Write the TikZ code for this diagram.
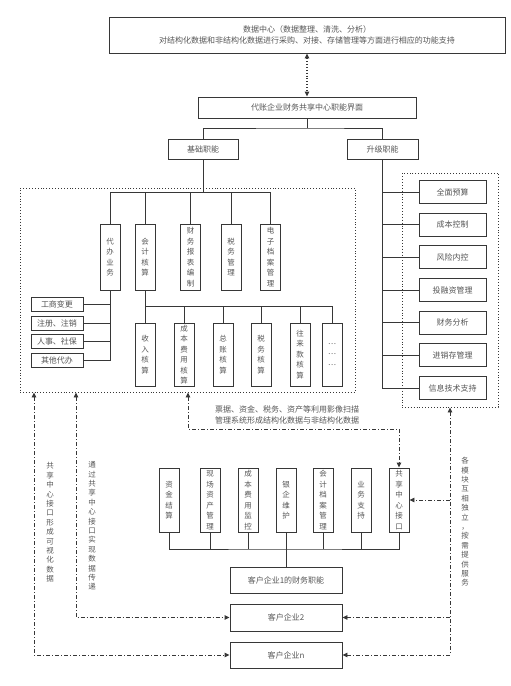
\documentclass[tikz,border=0pt]{standalone}
\usepackage{fontspec}
\setmainfont{Noto Sans CJK SC}
\usetikzlibrary{arrows.meta}
\definecolor{linegray}{RGB}{55,55,55}
\definecolor{txtgray}{RGB}{85,85,85}

\begin{document}
\begin{tikzpicture}[x=1pt,y=-1pt,
    every node/.style={text=txtgray,font=\fontsize{8}{11}\selectfont,inner sep=0pt,align=center},
    conn/.style={draw=linegray,line width=0.9pt},
    hbox/.style={draw=linegray,line width=0.9pt},
    vbox/.style={draw=linegray,line width=0.9pt,minimum width=20,font=\fontsize{7.5}{10.5}\selectfont},
    area/.style={draw=linegray,line width=0.9pt,dotted},
    dd/.style={draw=linegray,line width=0.9pt,dash pattern=on 4pt off 2pt on 1pt off 2pt},
    tip/.tip={Triangle[length=5pt,width=4.5pt]},
    vlabel/.style={font=\fontsize{7.5}{9.4}\selectfont}]
  \useasboundingbox (0,0) rectangle (511,686);

  % top part
  \node[hbox,minimum width=396,minimum height=36] (datacenter) at (307,35)
    {数据中心（数据整理、清洗、分析）\\对结构化数据和非结构化数据进行采购、对接、存储管理等方面进行相应的功能支持};
  \node[hbox,minimum width=218,minimum height=21] (ui) at (307,107.5) {代账企业财务共享中心职能界面};
  \draw[conn,dotted,line width=1.2pt,tip-tip] (datacenter.south) -- (ui.north);
  \node[hbox,minimum width=70,minimum height=20] (jichu) at (203,149) {基础职能};
  \node[hbox,minimum width=71,minimum height=20] (shengji) at (382.5,149) {升级职能};
  \coordinate (busA) at (307,128);
  \draw[conn] (ui.south) -- (busA);
  \draw[conn] (jichu.north) |- (busA) -| (shengji.north);

  % basic functions
  \node[area,minimum width=335,minimum height=204] (basearea) at (187.5,290) {};
  \coordinate (busB) at (203,192);
  \draw[conn] (jichu.south) -- (busB);
  \node[vbox,minimum height=66] (dbyw) at (110,257) {代\\办\\业\\务};
  \node[vbox,minimum height=66] (kjhs) at (145,257) {会\\计\\核\\算};
  \node[vbox,minimum height=66] (cwbb) at (190.5,257) {财\\务\\报\\表\\编\\制};
  \node[vbox,minimum height=66] (swgl) at (231,257) {税\\务\\管\\理};
  \node[vbox,minimum height=66] (dzda) at (270.5,257) {电\\子\\档\\案\\管\\理};
  \draw[conn] (busB) -| (dbyw.north);
  \draw[conn] (busB) -| (kjhs.north);
  \draw[conn] (busB) -| (cwbb.north);
  \draw[conn] (busB) -| (swgl.north);
  \draw[conn] (busB) -| (dzda.north);

  \node[hbox,minimum width=52,minimum height=14] (gsbg) at (57,304) {工商变更};
  \node[hbox,minimum width=52,minimum height=14] (zczx) at (57,323) {注册、注销};
  \node[hbox,minimum width=52,minimum height=14] (rssb) at (57,341) {人事、社保};
  \node[hbox,minimum width=52,minimum height=14] (qtdb) at (57,360) {其他代办};
  \draw[conn] (dbyw.south) |- (qtdb.east);
  \draw[conn] (gsbg.east) -- (gsbg.east -| dbyw.south);
  \draw[conn] (zczx.east) -- (zczx.east -| dbyw.south);
  \draw[conn] (rssb.east) -- (rssb.east -| dbyw.south);

  \coordinate (busC) at (145,306);
  \draw[conn] (kjhs.south) -- (busC);
  \node[vbox,minimum height=63] (srhs) at (145,354.5) {收\\入\\核\\算};
  \node[vbox,minimum height=63] (cbhs) at (184,354.5) {成\\本\\费\\用\\核\\算};
  \node[vbox,minimum height=63] (zzhs) at (223,354.5) {总\\账\\核\\算};
  \node[vbox,minimum height=63] (swhs) at (261,354.5) {税\\务\\核\\算};
  \node[vbox,minimum height=63] (wlhs) at (300,354.5) {往\\来\\款\\核\\算};
  \node[vbox,minimum height=63] (more) at (332,354.5) {…\\…\\…};
  \draw[conn] (busC) -| (srhs.north);
  \draw[conn] (busC) -| (cbhs.north);
  \draw[conn] (busC) -| (zzhs.north);
  \draw[conn] (busC) -| (swhs.north);
  \draw[conn] (busC) -| (wlhs.north);
  \draw[conn] (busC) -| (more.north);

  % upgraded functions
  \node[area,minimum width=96,minimum height=234] (upgarea) at (450,290) {};
  \node[hbox,minimum width=67,minimum height=23] (qmys) at (452.5,192) {全面预算};
  \node[hbox,minimum width=67,minimum height=23] (cbkz) at (452.5,224.7) {成本控制};
  \node[hbox,minimum width=67,minimum height=23] (fxnk) at (452.5,257.3) {风险内控};
  \node[hbox,minimum width=67,minimum height=23] (trz) at (452.5,290) {投融资管理};
  \node[hbox,minimum width=67,minimum height=23] (cwfx) at (452.5,322.7) {财务分析};
  \node[hbox,minimum width=67,minimum height=23] (jxc) at (452.5,355.3) {进销存管理};
  \node[hbox,minimum width=67,minimum height=23] (xxjs) at (452.5,388) {信息技术支持};
  \draw[conn] (shengji.south) |- (xxjs.west);
  \draw[conn] (qmys.west) -- (qmys.west -| shengji.south);
  \draw[conn] (cbkz.west) -- (cbkz.west -| shengji.south);
  \draw[conn] (fxnk.west) -- (fxnk.west -| shengji.south);
  \draw[conn] (trz.west) -- (trz.west -| shengji.south);
  \draw[conn] (cwfx.west) -- (cwfx.west -| shengji.south);
  \draw[conn] (jxc.west) -- (jxc.west -| shengji.south);

  % client enterprises
  \node[vbox,minimum height=64] (zjjs) at (169,500) {资\\金\\结\\算};
  \node[vbox,minimum height=64] (xczc) at (210,500) {现\\场\\资\\产\\管\\理};
  \node[vbox,minimum height=64] (cbjk) at (248,500) {成\\本\\费\\用\\监\\控};
  \node[vbox,minimum height=64] (yqwh) at (286,500) {银\\企\\维\\护};
  \node[vbox,minimum height=64] (kjda) at (323,500) {会\\计\\档\\案\\管\\理};
  \node[vbox,minimum height=64] (ywzc) at (361,500) {业\\务\\支\\持};
  \node[vbox,minimum height=64] (gxjk) at (399,500) {共\\享\\中\\心\\接\\口};
  \node[hbox,minimum width=112,minimum height=26] (kh1) at (286,580) {客户企业1的财务职能};
  \node[hbox,minimum width=112,minimum height=27] (kh2) at (286,617.5) {客户企业2};
  \node[hbox,minimum width=112,minimum height=26] (khn) at (286,655) {客户企业n};
  \coordinate (busD) at (286,549);
  \draw[conn] (zjjs.south) |- (busD) -| (gxjk.south);
  \draw[conn] (xczc.south) -- (xczc.south |- busD);
  \draw[conn] (cbjk.south) -- (cbjk.south |- busD);
  \draw[conn] (yqwh.south) -- (kh1.north);
  \draw[conn] (kjda.south) -- (kjda.south |- busD);
  \draw[conn] (ywzc.south) -- (ywzc.south |- busD);

  % data flows
  \coordinate (lineA) at (34,0);
  \coordinate (lineB) at (76,0);
  \coordinate (lineC) at (188,429);
  \draw[dd,tip-tip] (basearea.south -| lineA) |- (khn.west);
  \draw[dd,tip-tip] (basearea.south -| lineB) |- (kh2.west);
  \draw[dd,tip-tip] (basearea.south -| lineC) -- (lineC) -| (gxjk.north);
  \draw[dd,tip-tip] (upgarea.south) |- (khn.east);
  \draw[dd,-tip] (upgarea.south |- kh2.east) -- (kh2.east);
  \draw[dd,-tip] (upgarea.south |- gxjk.east) -- (gxjk.east);

  \node[vlabel] (lblA) at (50,522.5) {共\\享\\中\\心\\接\\口\\形\\成\\可\\视\\化\\数\\据};
  \node[vlabel] (lblB) at (92,526) {通\\过\\共\\享\\中\\心\\接\\口\\实\\现\\数\\据\\传\\递};
  \node[vlabel] (lblD) at (465,522) {各\\模\\块\\互\\相\\独\\立\\，\\按\\需\\提\\供\\服\\务};
  \node (lblC) at (287,415) {票据、资金、税务、资产等利用影像扫描\\管理系统形成结构化数据与非结构化数据};
\end{tikzpicture}
\end{document}
